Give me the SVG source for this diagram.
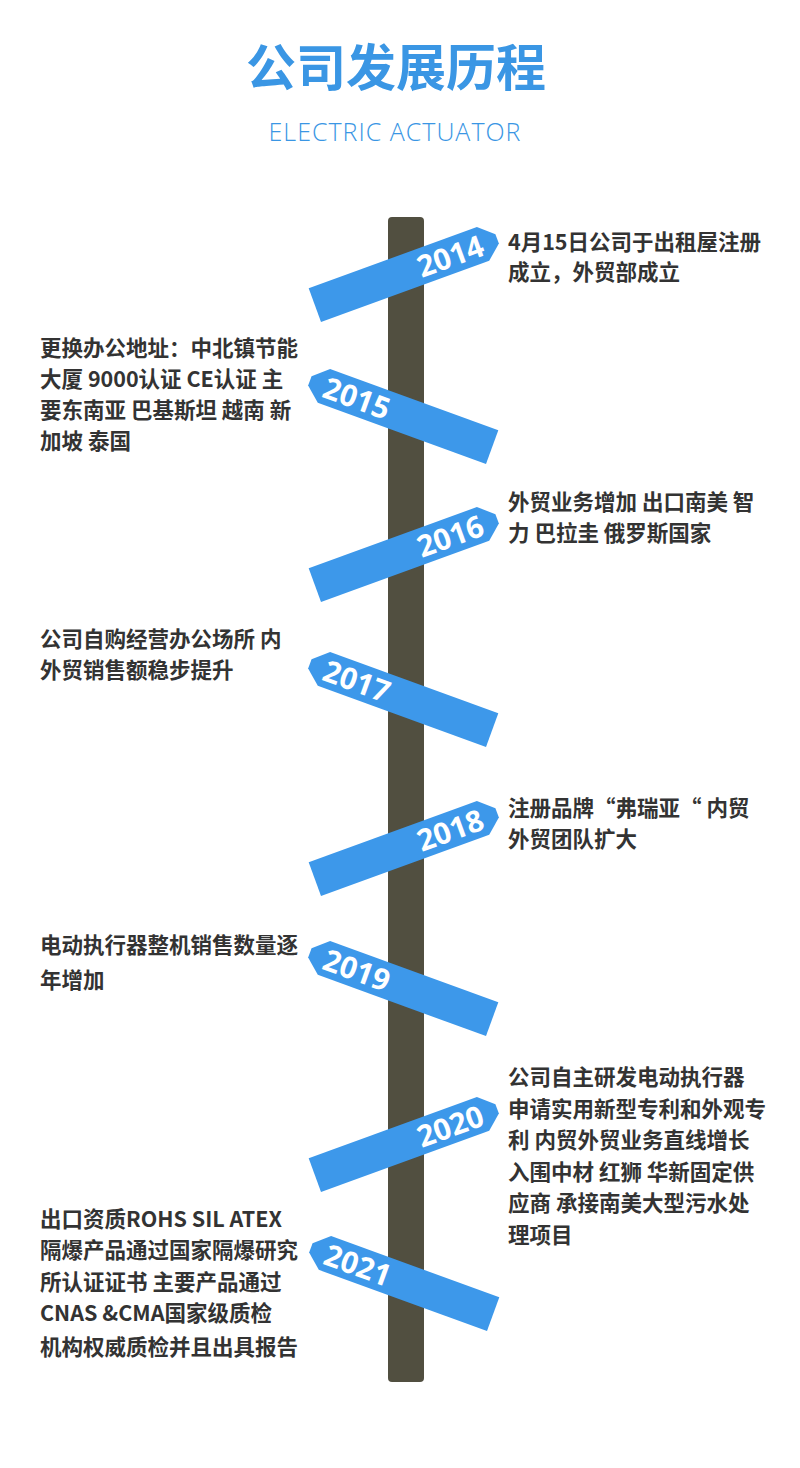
<svg xmlns="http://www.w3.org/2000/svg" width="800" height="1468" viewBox="0 0 800 1468">
<style>
.t{font-family:"Noto Sans CJK SC","Noto Sans",sans-serif;font-weight:bold;font-size:21.5px;fill:#333}
.y{font-family:"Open Sans","Noto Sans",sans-serif;font-weight:bold;font-size:30px;fill:#fff}
.s{fill:#3d98ea}
</style>
<defs>
<path id="R" d="M-97,-18 L82,-18 L97,-5 L97,5 L82,18 L-97,18 Z"/>
<path id="L" d="M97,-18 L-82,-18 L-97,-5 L-97,5 L-82,18 L97,18 Z"/>
</defs>
<rect width="800" height="1468" fill="#fff"/>
<text x="396" y="86" text-anchor="middle" font-family="Noto Sans CJK SC,sans-serif" font-weight="bold" font-size="50" fill="#3a96e4">公司发展历程</text>
<text x="395" y="141" text-anchor="middle" font-family="Open Sans,sans-serif" font-weight="300" font-size="25" letter-spacing="1" fill="#3a96e4">ELECTRIC ACTUATOR</text>
<rect id="pole" x="388" y="217" width="36" height="1165" rx="4" fill="#514f40"/>
<g id="y2014"><g transform="translate(406,272) rotate(-20)"><use href="#R" class="s"/><text x="47" y="11" text-anchor="middle" class="y">2014</text></g>
<text class="t" x="508" y="250">4月15日公司于出租屋注册</text><text class="t" x="508" y="280">成立，外贸部成立</text></g>
<g id="y2015"><g transform="translate(401,414) rotate(20)"><use href="#L" class="s"/><text x="-47" y="11" text-anchor="middle" class="y">2015</text></g>
<text class="t" x="40" y="356">更换办公地址：中北镇节能</text><text class="t" x="40" y="387">大厦 9000认证 CE认证 主</text><text class="t" x="40" y="418">要东南亚 巴基斯坦 越南 新</text><text class="t" x="40" y="449">加坡 泰国</text></g>
<g id="y2016"><g transform="translate(406,552) rotate(-20)"><use href="#R" class="s"/><text x="47" y="11" text-anchor="middle" class="y">2016</text></g>
<text class="t" x="508" y="510">外贸业务增加 出口南美 智</text><text class="t" x="508" y="541">力 巴拉圭 俄罗斯国家</text></g>
<g id="y2017"><g transform="translate(401,697) rotate(20)"><use href="#L" class="s"/><text x="-47" y="11" text-anchor="middle" class="y">2017</text></g>
<text class="t" x="40" y="647">公司自购经营办公场所 内</text><text class="t" x="40" y="678">外贸销售额稳步提升</text></g>
<g id="y2018"><g transform="translate(406,846) rotate(-20)"><use href="#R" class="s"/><text x="47" y="11" text-anchor="middle" class="y">2018</text></g>
<text class="t" x="508" y="816">注册品牌“弗瑞亚“ 内贸</text><text class="t" x="508" y="847">外贸团队扩大</text></g>
<g id="y2019"><g transform="translate(401,986) rotate(20)"><use href="#L" class="s"/><text x="-47" y="11" text-anchor="middle" class="y">2019</text></g>
<text class="t" x="40" y="953">电动执行器整机销售数量逐</text><text class="t" x="40" y="988">年增加</text></g>
<g id="y2020"><g transform="translate(406,1142) rotate(-20)"><use href="#R" class="s"/><text x="47" y="11" text-anchor="middle" class="y">2020</text></g>
<text class="t" x="508" y="1085">公司自主研发电动执行器</text><text class="t" x="508" y="1117">申请实用新型专利和外观专</text><text class="t" x="508" y="1148">利 内贸外贸业务直线增长</text><text class="t" x="508" y="1180">入围中材 红狮 华新固定供</text><text class="t" x="508" y="1211">应商 承接南美大型污水处</text><text class="t" x="508" y="1243">理项目</text></g>
<g id="y2021"><g transform="translate(402,1281) rotate(20)"><use href="#L" class="s"/><text x="-47" y="11" text-anchor="middle" class="y">2021</text></g>
<text class="t" x="40" y="1227">出口资质ROHS SIL ATEX</text><text class="t" x="40" y="1258">隔爆产品通过国家隔爆研究</text><text class="t" x="40" y="1290">所认证证书 主要产品通过</text><text class="t" x="40" y="1321">CNAS &amp;CMA国家级质检</text><text class="t" x="40" y="1355">机构权威质检并且出具报告</text></g>
<g id="connectors"/>
</svg>
